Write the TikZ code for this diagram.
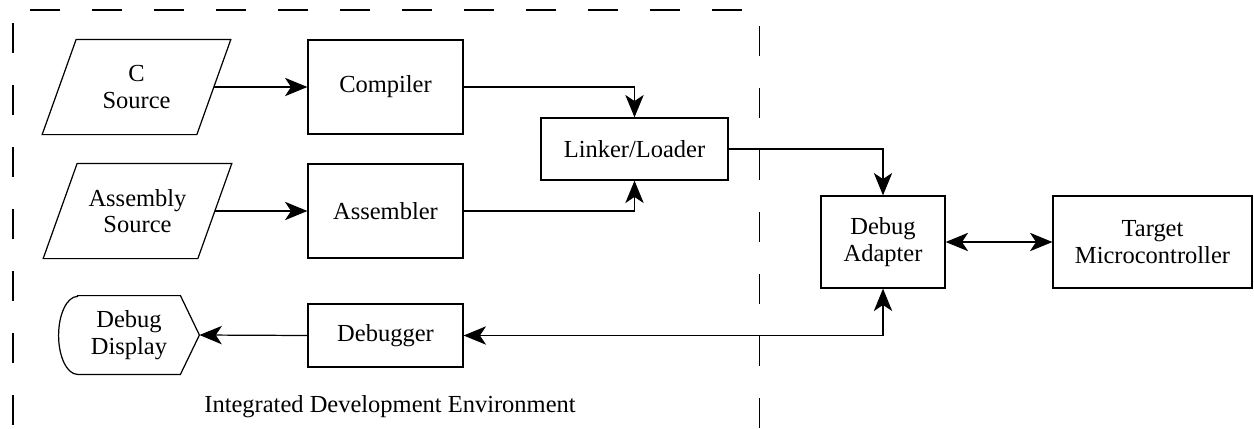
\documentclass[tikz,border=0pt]{standalone}
\usepackage{fontspec}
\setmainfont{Liberation Serif}
\usetikzlibrary{arrows.meta}

\begin{document}
\begin{tikzpicture}[x=0.49pt,y=0.49pt,
  font=\fontsize{12}{13}\selectfont,
  >={Stealth[length=11pt,width=9pt,inset=3pt]},
  box/.style={draw,line width=0.6pt,align=center,inner sep=0pt,minimum width=75.95pt,minimum height=46.06pt},
  src/.style={box,draw=none,minimum width=75.2pt},
  flow/.style={line width=0.6pt,->},
  frame/.style={line width=0.5pt,dash pattern=on 14.7pt off 15.68pt}]
\useasboundingbox(0,0)rectangle(1254,-428);
% dashed IDE frame
\draw[frame](30,-10)--(758,-10);
\draw[frame](13,-23)--(13,-428);
\draw[frame](759,-26)--(759,-428);
% sources and tools
\node[src](csrc)at(136.5,-87){C\\Source};
\node[box](comp)at(385.5,-87){Compiler};
\node[src](asrc)at(137.5,-211){Assembly\\Source};
\node[box](asm)at(385.5,-211){Assembler};
\foreach \n in {csrc,asrc}
  \draw[line width=0.6pt]([xshift=8.33pt]\n.north west)--([xshift=8.33pt]\n.north east)
    --([xshift=-8.33pt]\n.south east)--([xshift=-8.33pt]\n.south west)--cycle;
\node[box,minimum width=91.6pt,minimum height=30.4pt](link)at(634.5,-149){Linker/Loader};
\node[box,minimum height=30.9pt](dbg)at(385.5,-335.5){Debugger};
\node[align=center,inner sep=0pt,minimum width=50pt,minimum height=38.2pt](disp)at(129,-335){Debug\\Display};
\draw[line width=0.6pt](disp.north west)--(disp.north east)--([xshift=9.3pt]disp.east)coordinate(disptip)
  --(disp.south east)--(disp.south west)arc[start angle=270,end angle=90,x radius=9.3pt,y radius=19.1pt]--cycle;
% hardware side
\node[box,minimum width=60.8pt,minimum height=45.1pt](adapt)at(883,-242){Debug\\Adapter};
\node[box,minimum width=97.5pt,minimum height=45.1pt](target)at(1152.5,-242){Target\\Microcontroller};
\node(ide)at(390,-407){Integrated Development Environment};
% connectors
\draw[flow](csrc.east)--(comp.west);
\draw[flow](asrc.east)--(asm.west);
\draw[flow](comp.east)-|(link.north);
\draw[flow](asm.east)-|(link.south);
\draw[flow](link.east)-|(adapt.north);
\draw[flow,<->](adapt.east)--(target.west);
\draw[flow,<->](adapt.south)|-(dbg.east);
\draw[flow](dbg.west)--(disptip);
\end{tikzpicture}
\end{document}
